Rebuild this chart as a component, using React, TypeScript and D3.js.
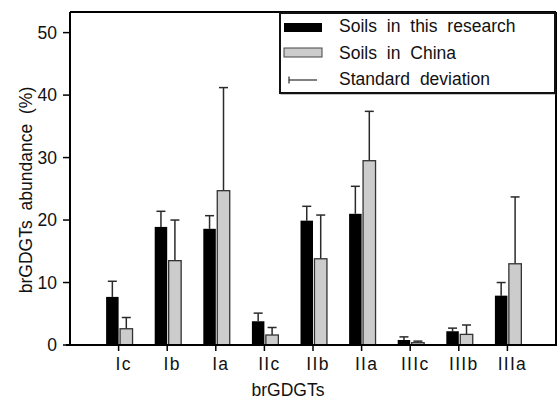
import React from "react";
import * as d3 from "d3";

const categories = ["Ic", "Ib", "Ia", "IIc", "IIb", "IIa", "IIIc", "IIIb", "IIIa"];
const thisResearch = [7.7, 18.9, 18.6, 3.8, 19.9, 21.0, 0.8, 2.2, 7.9];
const thisResearchSD = [2.5, 2.5, 2.1, 1.3, 2.3, 4.4, 0.5, 0.5, 2.1];
const china = [2.6, 13.5, 24.7, 1.6, 13.8, 29.5, 0.37, 1.7, 13.0];
const chinaSD = [1.8, 6.5, 16.5, 1.2, 7.0, 7.9, 0.25, 1.5, 10.7];
const yTicks = [0, 10, 20, 30, 40, 50];
const legendLabels = ["Soils in this research", "Soils in China", "Standard deviation"];

const W = 558;
const H = 399;
const left = 70;
const right = 556;
const top = 12;
const bottom = 345;

export default function App() {
  const x = d3.scaleLinear().domain([0, categories.length + 1]).range([left, right]);
  const y = d3.scaleLinear().domain([0, 53.3]).range([bottom, top]);
  const bw = 0.257;
  const gap = 0.03;
  const font = "'Liberation Sans', Arial, Helvetica, sans-serif";
  const errColor = "#2a2a2a";
  const cap = 4.5;
  const fs = 17.5;

  return (
    <svg
      width={W}
      height={H}
      style={{ position: "absolute", left: 0, top: 0, background: "#fff" }}
      fontFamily={font}
    >
      <rect x={0} y={0} width={W} height={H} fill="#fff" />
      {categories.map((c, i) => {
        const t = i + 1;
        const bx0 = x(t - bw);
        const bx1 = x(t);
        const gx0 = x(t + gap);
        const gx1 = x(t + gap + bw);
        const bc = (bx0 + bx1) / 2;
        const gc = (gx0 + gx1) / 2;
        const bTop = y(thisResearch[i]);
        const bErr = y(thisResearch[i] + thisResearchSD[i]);
        const gTop = y(china[i]);
        const gErr = y(china[i] + chinaSD[i]);
        return (
          <g key={c}>
            <line x1={bc} x2={bc} y1={bTop} y2={bErr} stroke={errColor} strokeWidth={1.5} />
            <line x1={bc - cap} x2={bc + cap} y1={bErr} y2={bErr} stroke={errColor} strokeWidth={1.5} />
            <line x1={gc} x2={gc} y1={gTop} y2={gErr} stroke={errColor} strokeWidth={1.5} />
            <line x1={gc - cap} x2={gc + cap} y1={gErr} y2={gErr} stroke={errColor} strokeWidth={1.5} />
            <rect x={bx0} y={bTop} width={bx1 - bx0} height={bottom - bTop} fill="#000" />
            <rect
              x={gx0}
              y={gTop}
              width={gx1 - gx0}
              height={bottom - gTop}
              fill="#cccccc"
              stroke="#333"
              strokeWidth={1.3}
            />
          </g>
        );
      })}
      <line x1={left} x2={right} y1={top} y2={top} stroke="#000" strokeWidth={2} />
      <line x1={right} x2={right} y1={top} y2={bottom} stroke="#000" strokeWidth={2} />
      <line x1={left} x2={left} y1={top} y2={bottom + 1} stroke="#000" strokeWidth={2} />
      <line x1={left - 4} x2={right + 1} y1={bottom} y2={bottom} stroke="#000" strokeWidth={2} />
      {yTicks.map((v) => (
        <g key={v}>
          <line x1={left - 7} x2={left} y1={y(v)} y2={y(v)} stroke="#000" strokeWidth={1.5} />
          <text x={57} y={y(v)} dy="0.36em" textAnchor="end" fontSize={fs} fill="#111">
            {v}
          </text>
        </g>
      ))}
      {categories.map((c, i) => (
        <g key={c}>
          <line x1={x(i + 1)} x2={x(i + 1)} y1={bottom} y2={bottom + 6} stroke="#000" strokeWidth={1.5} />
          <text
            x={x(i + 1) + 5}
            y={370}
            textAnchor="middle"
            fontSize={fs}
            letterSpacing={1.3}
            fill="#111"
          >
            {c}
          </text>
        </g>
      ))}
      <text x={288} y={396} textAnchor="middle" fontSize={fs} fill="#111">
        brGDGTs
      </text>
      <text
        transform="translate(32,190) rotate(-90)"
        textAnchor="middle"
        fontSize={fs}
        wordSpacing={5}
        fill="#111"
      >
        brGDGTs abundance (%)
      </text>
      <g>
        <rect x={281} y={14} width={274} height={80} fill="none" stroke="#888" strokeWidth={1} />
        <rect x={280} y={13} width={275} height={80} fill="#fff" stroke="#111" strokeWidth={2} />
        <rect x={284} y={23} width={38} height={9} fill="#000" />
        <rect x={284} y={48} width={38} height={9} fill="#cccccc" stroke="#444" strokeWidth={1} />
        <line x1={289} x2={317} y1={80} y2={80} stroke={errColor} strokeWidth={1.2} />
        <line x1={289} x2={289} y1={76.5} y2={83.5} stroke={errColor} strokeWidth={1.2} />
        {legendLabels.map((l, i) => (
          <text key={l} x={339} y={32 + i * 26.5} fontSize={fs} wordSpacing={5} fill="#111">
            {l}
          </text>
        ))}
      </g>
    </svg>
  );
}
